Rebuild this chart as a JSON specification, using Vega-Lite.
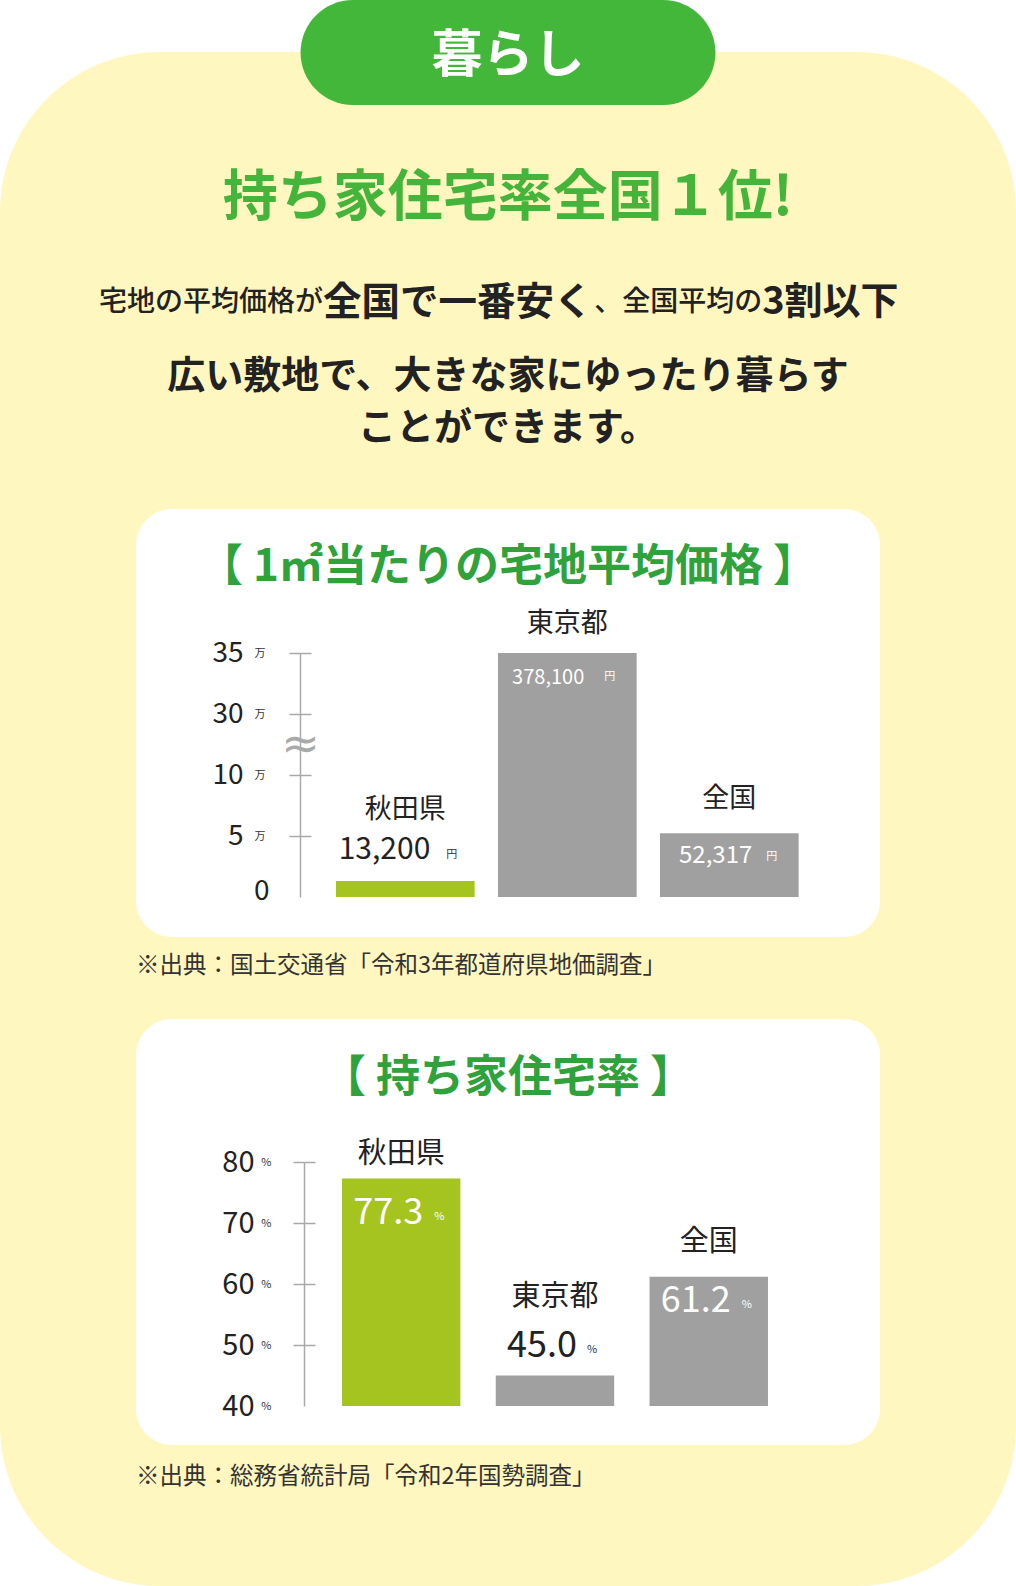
{
  "$schema": "https://vega.github.io/schema/vega-lite/v6.json",
  "background": "#FFFFFF",
  "padding": 0,
  "bounds": "flush",
  "spacing": -1586,
  "config": {
    "view": {"stroke": null},
    "font": "Noto Sans CJK JP",
    "text": {"font": "Noto Sans CJK JP"},
    "axis": {"labelFont": "Noto Sans CJK JP", "labelColor": "#222222", "grid": false}
  },
  "vconcat": [
    {
      "bounds": "flush",
      "spacing": 0,
      "vconcat": [
        {"width": 1016, "height": 52, "data": {"values": []}, "mark": "text"},
        {"width": 1016, "height": 1534, "view": {"fill": "#FFF7BF", "cornerRadius": 160, "stroke": null}, "data": {"values": []}, "mark": "text"}
      ]
    },
    {
      "bounds": "flush",
      "spacing": 0,
      "center": true,
      "vconcat": [
        {
          "width": 1016,
          "height": 105,
          "data": {"values": [{"label": "暮らし"}]},
          "layer": [
            {
              "mark": {"type": "rect", "color": "#43B73A", "cornerRadius": 52.5},
              "encoding": {
                "x": {"field": "label", "type": "nominal", "scale": {"paddingInner": 0, "paddingOuter": 0.7244, "align": 0.5}, "axis": null}
              }
            },
            {
              "mark": {"type": "text", "color": "#FFFFFF", "fontSize": 51, "fontWeight": "bold", "dy": 4},
              "encoding": {
                "x": {"field": "label", "type": "nominal", "axis": null},
                "text": {"field": "label"}
              }
            }
          ]
        },
        {
          "width": 1016,
          "height": 186,
          "data": {"values": [{"t": "持ち家住宅率全国１位!"}]},
          "mark": {"type": "text", "color": "#44B53A", "fontSize": 55, "fontWeight": "bold"},
          "encoding": {"text": {"field": "t"}}
        },
        {
          "width": 1016,
          "height": 24,
          "layer": [
            {
              "data": {"values": [{"t": "宅地の平均価格が", "anchor": "p1"}]},
              "mark": {"type": "text", "align": "right", "fontSize": 28, "fontWeight": 500, "color": "#222222"},
              "encoding": {
                "x": {"field": "anchor", "type": "nominal", "scale": {"type": "point", "domain": ["p1", "p2"], "padding": 0.657, "align": 0.56}, "axis": null},
                "text": {"field": "t"}
              }
            },
            {
              "data": {"values": [{"t": "全国で一番安く", "anchor": "p1"}]},
              "mark": {"type": "text", "align": "left", "fontSize": 38.5, "fontWeight": "bold", "color": "#222222"},
              "encoding": {
                "x": {"field": "anchor", "type": "nominal", "axis": null},
                "text": {"field": "t"}
              }
            },
            {
              "data": {"values": [{"t": "、全国平均の", "anchor": "p2"}]},
              "mark": {"type": "text", "align": "right", "fontSize": 28, "fontWeight": 500, "color": "#222222"},
              "encoding": {
                "x": {"field": "anchor", "type": "nominal", "axis": null},
                "text": {"field": "t"}
              }
            },
            {
              "data": {"values": [{"t": "3割以下", "anchor": "p2"}]},
              "mark": {"type": "text", "align": "left", "fontSize": 38, "fontWeight": "bold", "color": "#222222"},
              "encoding": {
                "x": {"field": "anchor", "type": "nominal", "axis": null},
                "text": {"field": "t"}
              }
            }
          ]
        },
        {
          "width": 1016,
          "height": 124,
          "data": {"values": [{"t": "広い敷地で、大きな家にゆったり暮らす\nことができます。"}]},
          "mark": {"type": "text", "fontSize": 38, "fontWeight": "bold", "color": "#222222", "lineBreak": "\n", "lineHeight": 52},
          "encoding": {"text": {"field": "t"}}
        },
        {"width": 1016, "height": 70, "data": {"values": []}, "mark": "text"},
        {
          "width": 744,
          "height": 428,
          "view": {"fill": "#FFFFFF", "cornerRadius": 36, "stroke": null},
          "title": {"text": "【 1㎡当たりの宅地平均価格 】", "orient": "top", "anchor": "middle", "frame": "group", "offset": -81, "fontSize": 44, "fontWeight": "bold", "color": "#2FA23C", "font": "Noto Sans CJK JP"},
          "data": {"values": [
            {"name": "秋田県", "price": 13200},
            {"name": "東京都", "price": 378100},
            {"name": "全国", "price": 52317}
          ]},
          "resolve": {"axis": {"y": "independent"}},
          "layer": [
            {
              "mark": {"type": "bar"},
              "encoding": {
                "x": {"field": "name", "type": "nominal", "sort": null,
                  "scale": {"domain": ["秋田県", "東京都", "全国"], "range": [164, 670], "paddingInner": 0.144, "paddingOuter": 0.1337, "align": 0.83},
                  "axis": {"orient": "bottom", "offset": -40, "domain": true, "domainColor": "#A9A9A9", "domainWidth": 2, "ticks": false, "labels": false, "grid": false, "title": null}},
                "y": {"field": "price", "type": "quantitative",
                  "scale": {"domain": [0, 100000, 300000, 350000], "range": [388, 266, 205, 144], "clamp": true, "nice": false, "zero": false},
                  "axis": {"orient": "left", "offset": -164, "values": [50000, 100000, 300000, 350000], "domain": true, "domainColor": "#A9A9A9", "domainWidth": 1.5, "ticks": true, "tickSize": 11, "tickColor": "#A9A9A9", "tickWidth": 1.5, "labels": false, "grid": false, "title": null}},
                "y2": {"datum": 0},
                "color": {"field": "name", "type": "nominal", "scale": {"domain": ["秋田県", "東京都", "全国"], "range": ["#A5C41F", "#A0A0A0", "#A0A0A0"]}, "legend": null}
              }
            },
            {
              "transform": [{"filter": "datum.name === '東京都'"}],
              "mark": {"type": "text", "dy": -29, "fontSize": 27, "color": "#222222"},
              "encoding": {
                "x": {"field": "name", "type": "nominal", "sort": null, "axis": null},
                "y": {"field": "price", "type": "quantitative",
                  "axis": {"orient": "right", "offset": -580, "values": [50000, 100000, 300000, 350000], "domain": false, "ticks": true, "tickSize": 11, "tickColor": "#A9A9A9", "tickWidth": 1.5, "labels": false, "grid": false, "title": null}},
                "text": {"field": "name"}
              }
            },
            {
              "transform": [{"filter": "datum.name === '全国'"}],
              "mark": {"type": "text", "dy": -34, "fontSize": 27, "color": "#222222"},
              "encoding": {
                "x": {"field": "name", "type": "nominal", "sort": null, "axis": null},
                "y": {"field": "price", "type": "quantitative", "axis": null},
                "text": {"field": "name"}
              }
            },
            {
              "transform": [{"filter": "datum.name === '秋田県'"}],
              "mark": {"type": "text", "dy": -71, "fontSize": 27, "color": "#222222"},
              "encoding": {
                "x": {"field": "name", "type": "nominal", "sort": null, "axis": null},
                "y": {"field": "price", "type": "quantitative",
                  "axis": {"orient": "left", "offset": -164, "values": [50000, 100000, 300000, 350000], "domain": false, "ticks": false, "tickSize": 0, "labelExpr": "datum.value / 10000", "labelFontSize": 28, "labelColor": "#222222", "labelPadding": 57, "labelOverlap": false, "grid": false, "title": null}},
                "text": {"field": "name"}
              }
            },
            {
              "transform": [{"filter": "datum.name === '秋田県'"}],
              "mark": {"type": "text", "align": "right", "dx": 25, "dy": -31, "fontSize": 30, "color": "#222222"},
              "encoding": {
                "x": {"field": "name", "type": "nominal", "sort": null, "axis": null},
                "y": {"field": "price", "type": "quantitative",
                  "axis": {"orient": "left", "offset": -164, "values": [50000, 100000, 300000, 350000], "domain": false, "ticks": false, "tickSize": 0, "labelExpr": "'万'", "labelFontSize": 11, "labelColor": "#333333", "labelPadding": 35, "labelOverlap": false, "grid": false, "title": null}},
                "text": {"field": "price", "type": "quantitative", "format": ","}
              }
            },
            {
              "transform": [{"filter": "datum.name === '秋田県'"}],
              "mark": {"type": "text", "text": "円", "align": "left", "dx": 41, "dy": -26, "fontSize": 11, "color": "#333333"},
              "encoding": {
                "x": {"field": "name", "type": "nominal", "sort": null, "axis": null},
                "y": {"field": "price", "type": "quantitative",
                  "axis": {"orient": "left", "offset": -164, "values": [0], "domain": false, "ticks": false, "tickSize": 0, "labelExpr": "'0'", "labelFontSize": 28, "labelColor": "#222222", "labelPadding": 31, "labelOffset": -6, "labelOverlap": false, "grid": false, "title": null}}
              }
            },
            {
              "transform": [{"filter": "datum.name === '東京都'"}],
              "mark": {"type": "text", "align": "right", "dx": 17, "dy": 25, "fontSize": 20, "color": "#FFFFFF"},
              "encoding": {
                "x": {"field": "name", "type": "nominal", "sort": null, "axis": null},
                "y": {"field": "price", "type": "quantitative",
                  "axis": {"orient": "left", "offset": -164, "values": [200000], "domain": false, "ticks": false, "tickSize": 0, "labelExpr": "'≈'", "labelFont": "DejaVu Sans", "labelFontSize": 46, "labelColor": "#A9A9A9", "labelAlign": "center", "labelBaseline": "middle", "labelPadding": 0, "labelOverlap": false, "grid": false, "title": null}},
                "text": {"field": "price", "type": "quantitative", "format": ","}
              }
            },
            {
              "transform": [{"filter": "datum.name === '全国'"}],
              "mark": {"type": "text", "align": "right", "dx": 23, "dy": 23, "fontSize": 24, "color": "#FFFFFF"},
              "encoding": {
                "x": {"field": "name", "type": "nominal", "sort": null, "axis": null},
                "y": {"field": "price", "type": "quantitative", "axis": null},
                "text": {"field": "price", "type": "quantitative", "format": ","}
              }
            },
            {
              "transform": [{"filter": "datum.name !== '秋田県'"}],
              "mark": {"type": "text", "text": "円", "align": "left", "dx": 37, "dy": 24, "fontSize": 11, "color": "#FFFFFF"},
              "encoding": {
                "x": {"field": "name", "type": "nominal", "sort": null, "axis": null},
                "y": {"field": "price", "type": "quantitative", "axis": null}
              }
            }
          ]
        },
        {
          "width": 744,
          "height": 82,
          "data": {"values": [{"src": "※出典：国土交通省「令和3年都道府県地価調査」"}]},
          "mark": {"type": "text", "align": "left", "baseline": "bottom", "fontSize": 23.5, "color": "#333333"},
          "encoding": {
            "x": {"field": "src", "type": "nominal", "scale": {"type": "point", "padding": 0, "align": 0}, "axis": null},
            "text": {"field": "src"}
          }
        },
        {
          "width": 744,
          "height": 426,
          "view": {"fill": "#FFFFFF", "cornerRadius": 36, "stroke": null},
          "title": {"text": "【 持ち家住宅率 】", "orient": "top", "anchor": "middle", "frame": "group", "offset": -82, "fontSize": 44, "fontWeight": "bold", "color": "#2FA23C", "font": "Noto Sans CJK JP"},
          "data": {"values": [
            {"name": "秋田県", "rate": 77.3},
            {"name": "東京都", "rate": 45.0},
            {"name": "全国", "rate": 61.2}
          ]},
          "resolve": {"axis": {"y": "independent"}},
          "layer": [
            {
              "mark": {"type": "bar"},
              "encoding": {
                "x": {"field": "name", "type": "nominal", "sort": null,
                  "scale": {"domain": ["秋田県", "東京都", "全国"], "range": [168, 676], "paddingInner": 0.23, "paddingOuter": 0.2665, "align": 0.463},
                  "axis": {"orient": "bottom", "offset": -39, "domain": true, "domainColor": "#A9A9A9", "domainWidth": 2, "ticks": false, "labels": false, "grid": false, "title": null}},
                "y": {"field": "rate", "type": "quantitative",
                  "scale": {"domain": [40, 80], "range": [387, 143], "nice": false, "zero": false},
                  "axis": {"orient": "left", "offset": -168, "values": [50, 60, 70, 80], "domain": true, "domainColor": "#A9A9A9", "domainWidth": 1.5, "ticks": true, "tickSize": 11, "tickColor": "#A9A9A9", "tickWidth": 1.5, "labels": false, "grid": false, "title": null}},
                "y2": {"datum": 40},
                "color": {"field": "name", "type": "nominal", "scale": {"domain": ["秋田県", "東京都", "全国"], "range": ["#A5C41F", "#A0A0A0", "#A0A0A0"]}, "legend": null}
              }
            },
            {
              "transform": [{"filter": "datum.name === '秋田県'"}],
              "mark": {"type": "text", "dy": -24, "fontSize": 29, "color": "#222222"},
              "encoding": {
                "x": {"field": "name", "type": "nominal", "sort": null, "axis": null},
                "y": {"field": "rate", "type": "quantitative",
                  "axis": {"orient": "right", "offset": -576, "values": [50, 60, 70, 80], "domain": false, "ticks": true, "tickSize": 11, "tickColor": "#A9A9A9", "tickWidth": 1.5, "labels": false, "grid": false, "title": null}},
                "text": {"field": "name"}
              }
            },
            {
              "transform": [{"filter": "datum.name === '全国'"}],
              "mark": {"type": "text", "dy": -35, "fontSize": 29, "color": "#222222"},
              "encoding": {
                "x": {"field": "name", "type": "nominal", "sort": null, "axis": null},
                "y": {"field": "rate", "type": "quantitative", "axis": null},
                "text": {"field": "name"}
              }
            },
            {
              "transform": [{"filter": "datum.name === '東京都'"}],
              "mark": {"type": "text", "dy": -79, "fontSize": 29, "color": "#222222"},
              "encoding": {
                "x": {"field": "name", "type": "nominal", "sort": null, "axis": null},
                "y": {"field": "rate", "type": "quantitative",
                  "axis": {"orient": "left", "offset": -168, "values": [40, 50, 60, 70, 80], "domain": false, "ticks": false, "tickSize": 0, "labelFontSize": 29, "labelColor": "#222222", "labelPadding": 50, "labelOverlap": false, "grid": false, "title": null}},
                "text": {"field": "name"}
              }
            },
            {
              "transform": [{"filter": "datum.name === '東京都'"}],
              "mark": {"type": "text", "align": "right", "dx": 22, "dy": -30, "fontSize": 36, "color": "#222222"},
              "encoding": {
                "x": {"field": "name", "type": "nominal", "sort": null, "axis": null},
                "y": {"field": "rate", "type": "quantitative",
                  "axis": {"orient": "left", "offset": -168, "values": [40, 50, 60, 70, 80], "domain": false, "ticks": false, "tickSize": 0, "labelExpr": "'%'", "labelFontSize": 11, "labelColor": "#333333", "labelPadding": 33, "labelOverlap": false, "grid": false, "title": null}},
                "text": {"field": "rate", "type": "quantitative", "format": ".1f"}
              }
            },
            {
              "transform": [{"filter": "datum.name === '東京都'"}],
              "mark": {"type": "text", "text": "%", "align": "left", "dx": 32, "dy": -26, "fontSize": 11, "color": "#333333"},
              "encoding": {
                "x": {"field": "name", "type": "nominal", "sort": null, "axis": null},
                "y": {"field": "rate", "type": "quantitative", "axis": null}
              }
            },
            {
              "transform": [{"filter": "datum.name === '秋田県'"}],
              "mark": {"type": "text", "align": "right", "dx": 22, "dy": 35, "fontSize": 36, "color": "#FFFFFF"},
              "encoding": {
                "x": {"field": "name", "type": "nominal", "sort": null, "axis": null},
                "y": {"field": "rate", "type": "quantitative", "axis": null},
                "text": {"field": "rate", "type": "quantitative", "format": ".1f"}
              }
            },
            {
              "transform": [{"filter": "datum.name === '秋田県'"}],
              "mark": {"type": "text", "text": "%", "align": "left", "dx": 33, "dy": 39, "fontSize": 11, "color": "#FFFFFF"},
              "encoding": {
                "x": {"field": "name", "type": "nominal", "sort": null, "axis": null},
                "y": {"field": "rate", "type": "quantitative", "axis": null}
              }
            },
            {
              "transform": [{"filter": "datum.name === '全国'"}],
              "mark": {"type": "text", "align": "right", "dx": 22, "dy": 24, "fontSize": 36, "color": "#FFFFFF"},
              "encoding": {
                "x": {"field": "name", "type": "nominal", "sort": null, "axis": null},
                "y": {"field": "rate", "type": "quantitative", "axis": null},
                "text": {"field": "rate", "type": "quantitative", "format": ".1f"}
              }
            },
            {
              "transform": [{"filter": "datum.name === '全国'"}],
              "mark": {"type": "text", "text": "%", "align": "left", "dx": 33, "dy": 28, "fontSize": 11, "color": "#FFFFFF"},
              "encoding": {
                "x": {"field": "name", "type": "nominal", "sort": null, "axis": null},
                "y": {"field": "rate", "type": "quantitative", "axis": null}
              }
            }
          ]
        },
        {
          "width": 744,
          "height": 88,
          "data": {"values": [{"src": "※出典：総務省統計局「令和2年国勢調査」"}]},
          "mark": {"type": "text", "align": "left", "baseline": "bottom", "fontSize": 23.5, "color": "#333333"},
          "encoding": {
            "x": {"field": "src", "type": "nominal", "scale": {"type": "point", "padding": 0, "align": 0}, "axis": null},
            "text": {"field": "src"}
          }
        }
      ]
    }
  ]
}
